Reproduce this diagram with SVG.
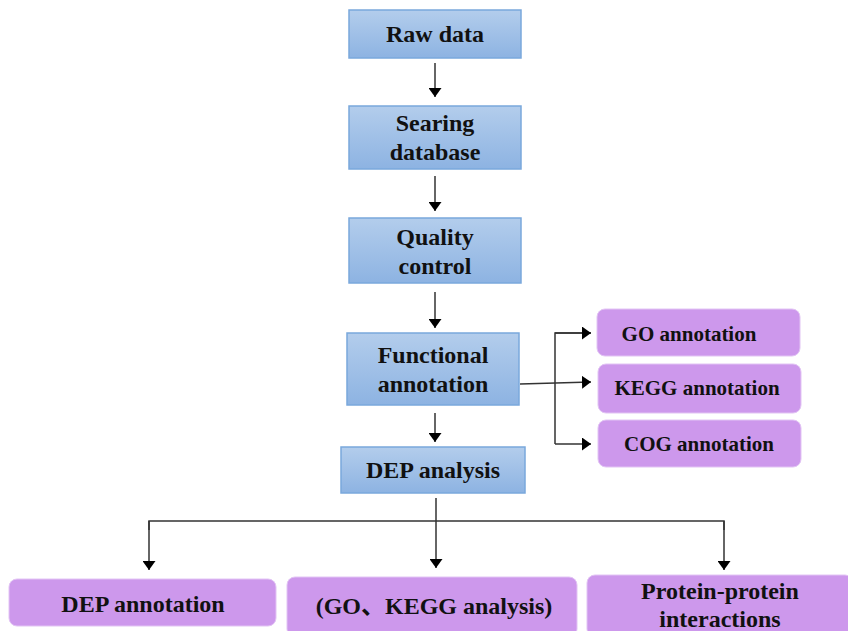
<svg xmlns="http://www.w3.org/2000/svg" width="848" height="631" viewBox="0 0 848 631">
<defs>
<linearGradient id="bg" x1="0" y1="0" x2="0" y2="1">
<stop offset="0" stop-color="#b3cdec"/>
<stop offset="1" stop-color="#8db3e2"/>
</linearGradient>
<marker id="ah" viewBox="0 0 9 13" refX="9" refY="6.5" markerWidth="9" markerHeight="13" markerUnits="userSpaceOnUse" orient="auto">
<path d="M0,0 L9,6.5 L0,13 Z" fill="#000"/>
</marker>
<style>
.blue{fill:url(#bg);stroke:#7aa8dc;stroke-width:1.5}
.purp{fill:#cd98ec;stroke:#e2c4f4;stroke-width:1}
.t{font-family:"Liberation Serif","Times New Roman",serif;font-weight:bold;font-size:24px;fill:#111;text-anchor:middle}
.ts{font-size:21px}
.c{fill:none;stroke:#333;stroke-width:1.5}
.ca{fill:none;stroke:#333;stroke-width:1.5;marker-end:url(#ah)}
</style>
</defs>
<rect width="848" height="631" fill="#fff"/>
<g id="connectors">
<line class="ca" x1="435" y1="63" x2="435" y2="97"/>
<line class="ca" x1="435" y1="176" x2="435" y2="211"/>
<line class="ca" x1="435" y1="292" x2="435" y2="328"/>
<line class="ca" x1="435" y1="413" x2="435" y2="442"/>
<line class="ca" x1="520" y1="384" x2="591" y2="382"/>
<polyline class="c" points="591,333 555,333 555,444"/>
<line class="ca" x1="555" y1="333" x2="591" y2="333"/>
<line class="ca" x1="555" y1="444" x2="591" y2="444"/>
<line class="ca" x1="436" y1="498" x2="436" y2="568"/>
<polyline class="c" points="149,530 149,521 724,521 724,530"/>
<line class="ca" x1="149" y1="521" x2="149" y2="570"/>
<line class="ca" x1="724" y1="521" x2="724" y2="570"/>
</g>
<g id="raw-data">
<rect class="blue" x="349" y="10" width="172" height="48"/>
<text class="t" x="435" y="42">Raw data</text>
</g>
<g id="searing-database">
<rect class="blue" x="349" y="106" width="172" height="63"/>
<text class="t" x="435" y="131">Searing</text>
<text class="t" x="435" y="160">database</text>
</g>
<g id="quality-control">
<rect class="blue" x="349" y="218" width="172" height="65"/>
<text class="t" x="435" y="245">Quality</text>
<text class="t" x="435" y="274">control</text>
</g>
<g id="functional-annotation">
<rect class="blue" x="347" y="333" width="172" height="72"/>
<text class="t" x="433" y="363">Functional</text>
<text class="t" x="433" y="392">annotation</text>
</g>
<g id="dep-analysis">
<rect class="blue" x="341" y="447" width="184" height="46"/>
<text class="t" x="433" y="478">DEP analysis</text>
</g>
<g id="go-annotation">
<rect class="purp" x="597" y="309" width="203" height="47" rx="8"/>
<text class="t ts" x="689" y="341">GO annotation</text>
</g>
<g id="kegg-annotation">
<rect class="purp" x="598" y="364" width="203" height="49" rx="8"/>
<text class="t ts" x="697" y="395">KEGG annotation</text>
</g>
<g id="cog-annotation">
<rect class="purp" x="598" y="420" width="203" height="47" rx="8"/>
<text class="t ts" x="699" y="451">COG annotation</text>
</g>
<g id="dep-annotation">
<rect class="purp" x="9" y="579" width="267" height="47" rx="8"/>
<text class="t" x="143" y="612">DEP annotation</text>
</g>
<g id="go-kegg-analysis">
<rect class="purp" x="287" y="577" width="290" height="60" rx="8"/>
<text class="t" x="434" y="614">(GO<tspan font-family="'Noto Sans CJK SC',sans-serif">、</tspan>KEGG analysis)</text>
</g>
<g id="ppi">
<rect class="purp" x="587" y="575" width="266" height="62" rx="8"/>
<text class="t" x="720" y="599">Protein-protein</text>
<text class="t" x="720" y="627">interactions</text>
</g>
</svg>
